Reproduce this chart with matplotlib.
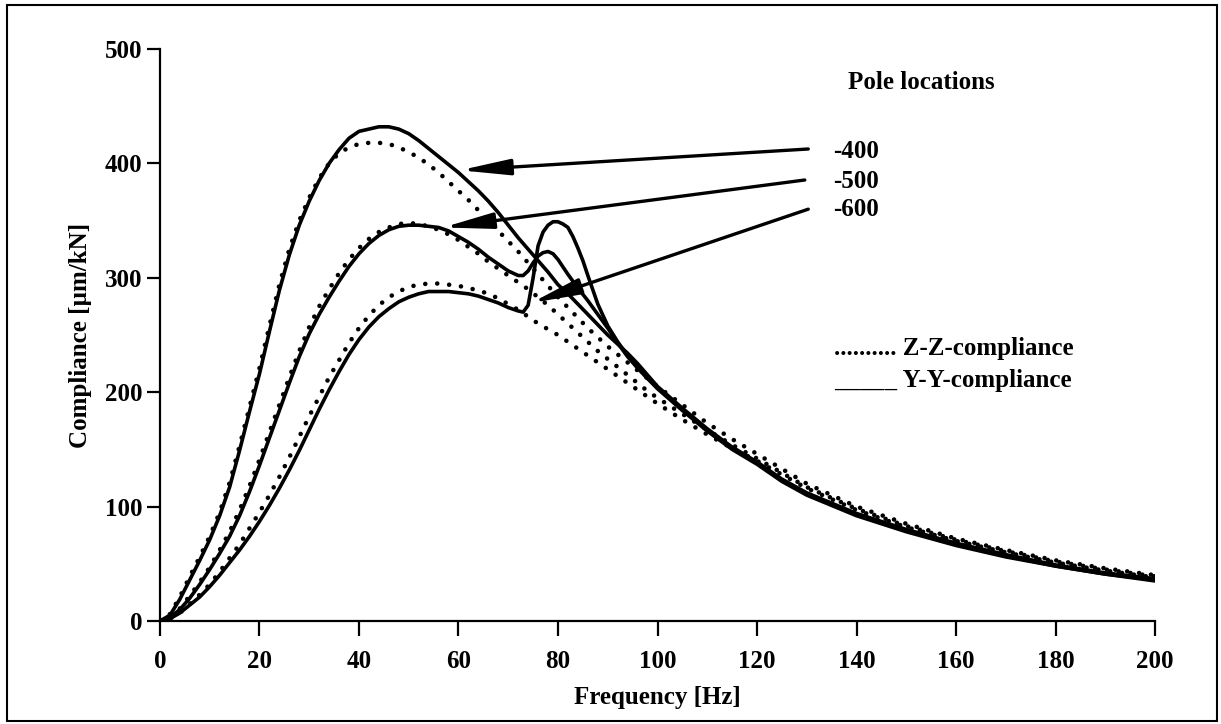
import matplotlib
matplotlib.use("Agg")
import matplotlib.pyplot as plt
from matplotlib.patches import Rectangle

# ------------------- data ------------------- #
# Y-Y compliance (solid), pole at -400 / -500 / -600
f_yy_400 = [0, 2, 4, 6, 8, 10, 12, 14, 16, 18, 20, 22, 24, 26, 28, 30, 32, 34, 36, 38, 40,
            42, 44, 46, 48, 50, 52, 54, 56, 58, 60, 62, 64, 66, 68, 70, 72, 74, 76, 78, 80,
            82, 84, 86, 88, 90, 92, 94, 96, 98, 100, 105, 110, 115, 120, 125, 130, 135, 140,
            150, 160, 170, 180, 190, 200]
c_yy_400 = [0, 5, 19, 36, 53, 71, 92, 117, 149, 183, 216, 253, 289, 320, 346, 367, 385, 400, 412, 422, 428,
            430, 432, 432, 430, 426, 420, 413, 406, 399, 392, 384, 376, 367, 357, 346, 335, 325, 315, 305, 294,
            286, 277, 268, 259, 250, 242, 234, 225, 215, 205, 186, 168, 152, 139, 124, 112, 103, 94,
            80, 68, 58, 49, 42, 37]

f_yy_500 = [0, 2, 4, 6, 8, 10, 12, 14, 16, 18, 20, 22, 24, 26, 28, 30, 32, 34, 36, 38, 40,
            42, 44, 46, 48, 50, 52, 54, 56, 58, 60, 62, 64, 66, 68, 70, 72, 73, 74, 75, 76, 77,
            78, 79, 80, 82, 84, 86, 88, 90, 92, 94, 96, 98, 100, 105, 110, 115, 120, 125, 130,
            135, 140, 150, 160, 170, 180, 190, 200]
c_yy_500 = [0, 3, 10, 20, 32, 45, 59, 74, 92, 113, 136, 160, 184, 208, 231, 251, 268, 283, 297, 310, 321,
            330, 337, 342, 345, 346, 346, 345, 344, 341, 336, 331, 325, 318, 312, 306, 302, 302, 306, 313, 319, 322,
            323, 321, 316, 303, 291, 280, 268, 256, 243, 231, 221, 212, 204, 185, 167, 151, 138, 123, 111,
            102, 93, 79, 67, 57, 48, 41, 36]

f_yy_600 = [0, 2, 4, 6, 8, 10, 12, 14, 16, 18, 20, 22, 24, 26, 28, 30, 32, 34, 36, 38, 40,
            42, 44, 46, 48, 50, 52, 54, 56, 58, 60, 62, 64, 66, 68, 70, 72, 73, 74, 75, 76, 77,
            78, 79, 80, 81, 82, 83, 84, 85, 86, 88, 90, 92, 94, 96, 98, 100, 105, 110, 115, 120,
            125, 130, 135, 140, 150, 160, 170, 180, 190, 200]
c_yy_600 = [0, 2, 7, 14, 21, 30, 40, 51, 62, 74, 87, 101, 116, 132, 149, 167, 185, 202, 218, 233, 246,
            257, 266, 273, 279, 283, 286, 288, 288, 288, 287, 286, 284, 281, 278, 274, 271, 270, 276, 300, 328, 340,
            346, 349, 349, 347, 344, 336, 326, 315, 302, 277, 258, 244, 232, 222, 212, 203, 184, 166, 150, 137,
            122, 110, 101, 92, 78, 66, 56, 48, 41, 35]

# Z-Z compliance (dotted)
f_zz = [0, 2, 4, 6, 8, 10, 12, 14, 16, 18, 20, 22, 24, 26, 28, 30, 32, 34, 36, 38, 40,
        42, 44, 46, 48, 50, 52, 54, 56, 58, 60, 62, 64, 66, 68, 70, 72, 74, 76, 78, 80,
        82, 84, 86, 88, 90, 92, 94, 96, 98, 100, 105, 110, 115, 120, 130, 140, 150, 160,
        170, 180, 190, 200]
c_zz_400 = [0, 6, 21, 39, 56, 74, 95, 121, 153, 187, 221, 258, 294, 325, 350, 370, 387, 400, 409, 414, 417,
            418, 418, 417, 414, 410, 405, 399, 392, 384, 376, 368, 359, 350, 341, 332, 323, 313, 303, 293, 283,
            274, 265, 256, 248, 240, 233, 226, 219, 212, 205, 189, 173, 159, 146, 120, 100, 85, 72,
            62, 53, 46, 40]
c_zz_500 = [0, 3, 11, 22, 34, 47, 62, 78, 97, 118, 141, 165, 189, 213, 236, 257, 275, 290, 304, 316, 326,
            334, 340, 344, 347, 348, 347, 345, 342, 338, 333, 327, 321, 314, 308, 302, 296, 290, 283, 276, 268,
            260, 252, 244, 236, 229, 222, 215, 208, 201, 195, 181, 167, 154, 142, 117, 98, 83, 71,
            61, 52, 45, 39]
c_zz_600 = [0, 2, 7, 15, 23, 32, 43, 55, 67, 81, 95, 110, 126, 143, 161, 179, 196, 213, 228, 243, 256,
            267, 276, 283, 288, 292, 294, 295, 295, 294, 293, 291, 289, 286, 282, 277, 272, 266, 260, 255, 250,
            244, 238, 232, 226, 220, 214, 208, 202, 196, 190, 176, 163, 151, 140, 116, 97, 82, 70,
            60, 51, 44, 38]

# arrows: label, tail (freq, compliance), tip (freq, compliance)
pole_labels = ["-400", "-500", "-600"]
arrow_tails = [(130.3, 412.6), (129.6, 385.5), (130.3, 360.0)]
arrow_tips = [(60.3, 394.0), (56.9, 344.0), (74.6, 278.0)]
label_pos = [(135.3, 410.0), (135.3, 384.6), (135.3, 360.0)]

x_ticks = list(range(0, 201, 20))
y_ticks = list(range(0, 501, 100))

# -------------------------- plot -------------------------- #
plt.rcParams['font.family'] = ['Liberation Serif', 'DejaVu Serif']
plt.rcParams['font.weight'] = 'bold'
FS = 18

fig = plt.figure(figsize=(12.21, 7.24), dpi=100)
ax = fig.add_axes([0.131, 0.1423, 0.815, 0.79])

solid = dict(color='black', lw=2.6, solid_joinstyle='round', solid_capstyle='round')
dotted = dict(color='black', lw=3.3, linestyle=(0, (0.01, 2.6)), dash_capstyle='round')

ax.plot(f_yy_400, c_yy_400, **solid)
ax.plot(f_yy_500, c_yy_500, **solid)
ax.plot(f_yy_600, c_yy_600, **solid)
ax.plot(f_zz, c_zz_400, **dotted)
ax.plot(f_zz, c_zz_500, **dotted)
ax.plot(f_zz, c_zz_600, **dotted)

for lab, tail, tip, pos in zip(pole_labels, arrow_tails, arrow_tips, label_pos):
    ax.annotate('', xy=tip, xytext=tail,
                arrowprops=dict(arrowstyle='-|>,head_length=1.5,head_width=0.24',
                                color='black', lw=2.4, mutation_scale=20,
                                shrinkA=0, shrinkB=0))
    ax.text(pos[0], pos[1], lab, fontsize=FS, fontweight='bold', va='center', ha='left')

ax.text(138.3, 471, 'Pole locations', fontsize=FS, fontweight='bold', va='center', ha='left')
ax.text(135.5, 237.8, '.......... Z-Z-compliance', fontsize=FS, fontweight='bold',
        va='center', ha='left')
ax.text(135.5, 209.8, '_____ Y-Y-compliance', fontsize=FS, fontweight='bold',
        va='center', ha='left')

ax.set_xlim(0, 200)
ax.set_ylim(0, 500)
ax.set_xticks(x_ticks)
ax.set_yticks(y_ticks)
ax.spines['top'].set_visible(False)
ax.spines['right'].set_visible(False)
for s in ['left', 'bottom']:
    ax.spines[s].set_linewidth(1.6)
ax.tick_params(axis='y', direction='out', length=9.5, width=1.6, labelsize=FS, pad=3)
ax.tick_params(axis='x', direction='out', length=11, width=1.6, labelsize=FS, pad=10)
for t in ax.get_xticklabels() + ax.get_yticklabels():
    t.set_fontweight('bold')

ax.set_xlabel('Frequency [Hz]', fontsize=FS, fontweight='bold', labelpad=9)
ax.set_ylabel('Compliance [µm/kN]', fontsize=FS, fontweight='bold', labelpad=9)

# frame round the whole picture
fig.patches.append(Rectangle((0.006, 0.004), 0.991, 0.989, transform=fig.transFigure,
                             fill=False, edgecolor='black', lw=1.5))

fig.savefig('out.png', dpi=100)
